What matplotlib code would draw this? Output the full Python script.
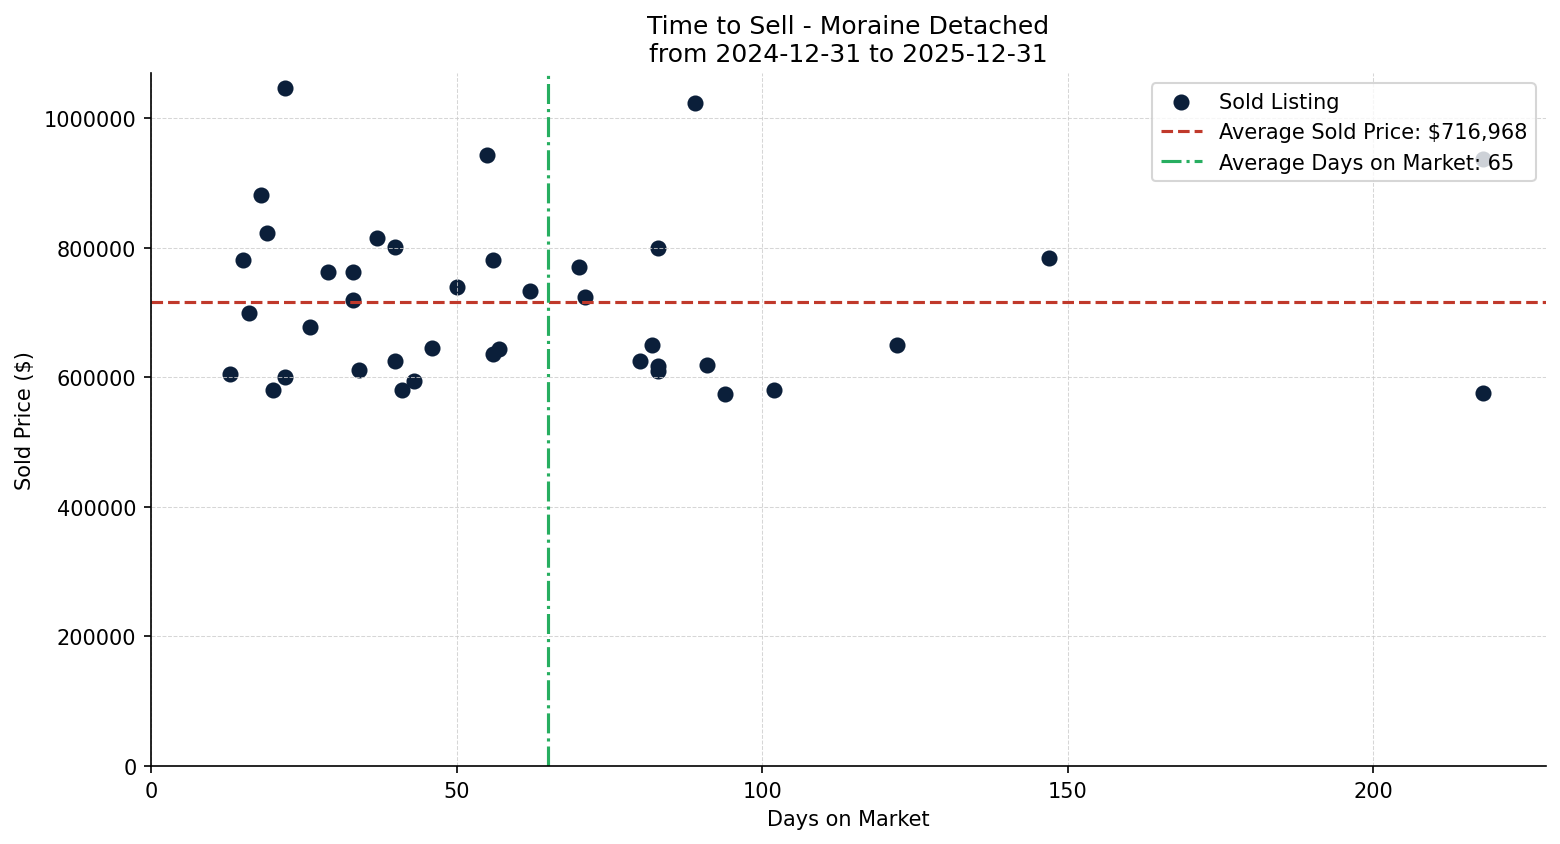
import numpy as np
import matplotlib
matplotlib.use("Agg")
import matplotlib.pyplot as plt

days = [22, 18, 19, 15, 16, 13, 20, 22, 26, 29, 33, 33, 34, 37, 40, 40, 41, 43, 46, 50,
        55, 56, 56, 57, 62, 70, 71, 80, 82, 83, 83, 83, 89, 91, 94, 102, 122, 147, 218, 218]
prices = [1046000, 881000, 822000, 781000, 700000, 605000, 580000, 600000, 677000, 762000,
          762000, 720000, 611000, 815000, 801000, 625000, 580000, 594000, 645000, 739000,
          943000, 781000, 636000, 643000, 733000, 770000, 724000, 625000, 650000, 799000,
          617000, 610000, 1023000, 619000, 574000, 580000, 650000, 784000, 576000, 937000]
avg_price = 716968
avg_days = 65

fig, ax = plt.subplots(figsize=(10.4, 5.633), dpi=150)
ax.scatter(days, prices, color="#0b1f3a", s=45, label="Sold Listing")
ax.axhline(avg_price, color="#c0392b", linestyle="--", linewidth=1.5,
           label=f"Average Sold Price: ${avg_price:,.0f}")
ax.axvline(avg_days, color="#27ae60", linestyle="-.", linewidth=1.5,
           label=f"Average Days on Market: {avg_days}")

ax.set_xlim(left=0)
ax.set_ylim(bottom=0)
ax.ticklabel_format(axis="y", style="plain", useOffset=False)
ax.grid(True, linestyle="--", linewidth=0.5, color="#cccccc", alpha=0.8)
ax.spines["top"].set_visible(False)
ax.spines["right"].set_visible(False)
ax.set_xlabel("Days on Market")
ax.set_ylabel("Sold Price ($)")
ax.set_title("Time to Sell - Moraine Detached\nfrom 2024-12-31 to 2025-12-31", fontsize=12)
ax.legend(loc="upper right")
fig.subplots_adjust(left=0.0968, right=0.991, top=0.9124, bottom=0.0923)
fig.savefig("out.png", dpi=150)
